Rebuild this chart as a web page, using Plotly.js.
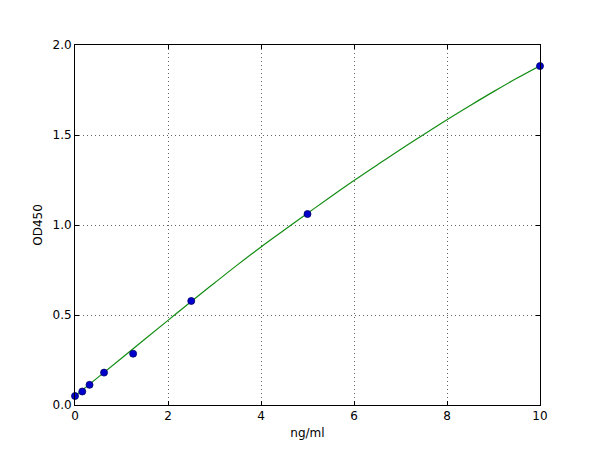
<!DOCTYPE html>
<html>
<head>
<meta charset="utf-8">
<script src="https://cdn.plot.ly/plotly-3.0.1.min.js"></script>
<style>
  html, body { margin: 0; padding: 0; background: #fff; }
  #chart { width: 600px; height: 450px; }
</style>
</head>
<body>
<div id="chart"></div>
<script>
// standards (ng/ml) and measured OD450
const concs = [0, 0.156, 0.3125, 0.625, 1.25, 2.5, 5, 10];
const ods = [0.05, 0.075, 0.112, 0.18, 0.285, 0.578, 1.061, 1.883];

// fitted curve
const fitX = [0, 0.5, 1, 1.5, 2, 2.5, 3, 3.5, 4, 4.5, 5, 5.5, 6, 6.5, 7, 7.5, 8, 8.5, 9, 9.5, 10];
const fitY = [0.05, 0.155, 0.26, 0.365, 0.47, 0.575, 0.678, 0.78, 0.878, 0.972, 1.065,
  1.157, 1.247, 1.334, 1.42, 1.503, 1.585, 1.664, 1.741, 1.815, 1.885];

const fitLine = {
  x: fitX,
  y: fitY,
  type: 'scatter',
  mode: 'lines',
  line: { color: '#118c11', width: 1.2, shape: 'spline' },
  hoverinfo: 'skip',
};

const points = {
  x: concs,
  y: ods,
  type: 'scatter',
  mode: 'markers',
  marker: { color: '#0000cc', size: 7, line: { color: '#000066', width: 0.8 } },
  cliponaxis: false,
};

const axisStyle = {
  showline: true,
  linecolor: '#000',
  linewidth: 1,
  mirror: 'ticks',
  ticks: 'inside',
  ticklen: 4,
  tickcolor: '#000',
  showgrid: true,
  gridcolor: '#666',
  griddash: '1px,3px',
  gridwidth: 1,
  zeroline: false,
  tickfont: { family: 'DejaVu Sans', size: 12, color: '#000' },
};

const layout = {
  width: 600,
  height: 450,
  margin: { l: 75, r: 60, t: 45, b: 45 },
  showlegend: false,
  paper_bgcolor: '#fff',
  plot_bgcolor: '#fff',
  font: { family: 'DejaVu Sans', size: 12, color: '#000' },
  xaxis: Object.assign({}, axisStyle, {
    range: [0, 10],
    dtick: 2,
    title: { text: 'ng/ml', standoff: 6, font: { family: 'DejaVu Sans', size: 12 } },
  }),
  yaxis: Object.assign({}, axisStyle, {
    range: [0, 2],
    dtick: 0.5,
    tickformat: '.1f',
    title: { text: 'OD450', standoff: 7, font: { family: 'DejaVu Sans', size: 12 } },
  }),
};

Plotly.newPlot('chart', [fitLine, points], layout, { displayModeBar: false, staticPlot: true });
</script>
</body>
</html>
